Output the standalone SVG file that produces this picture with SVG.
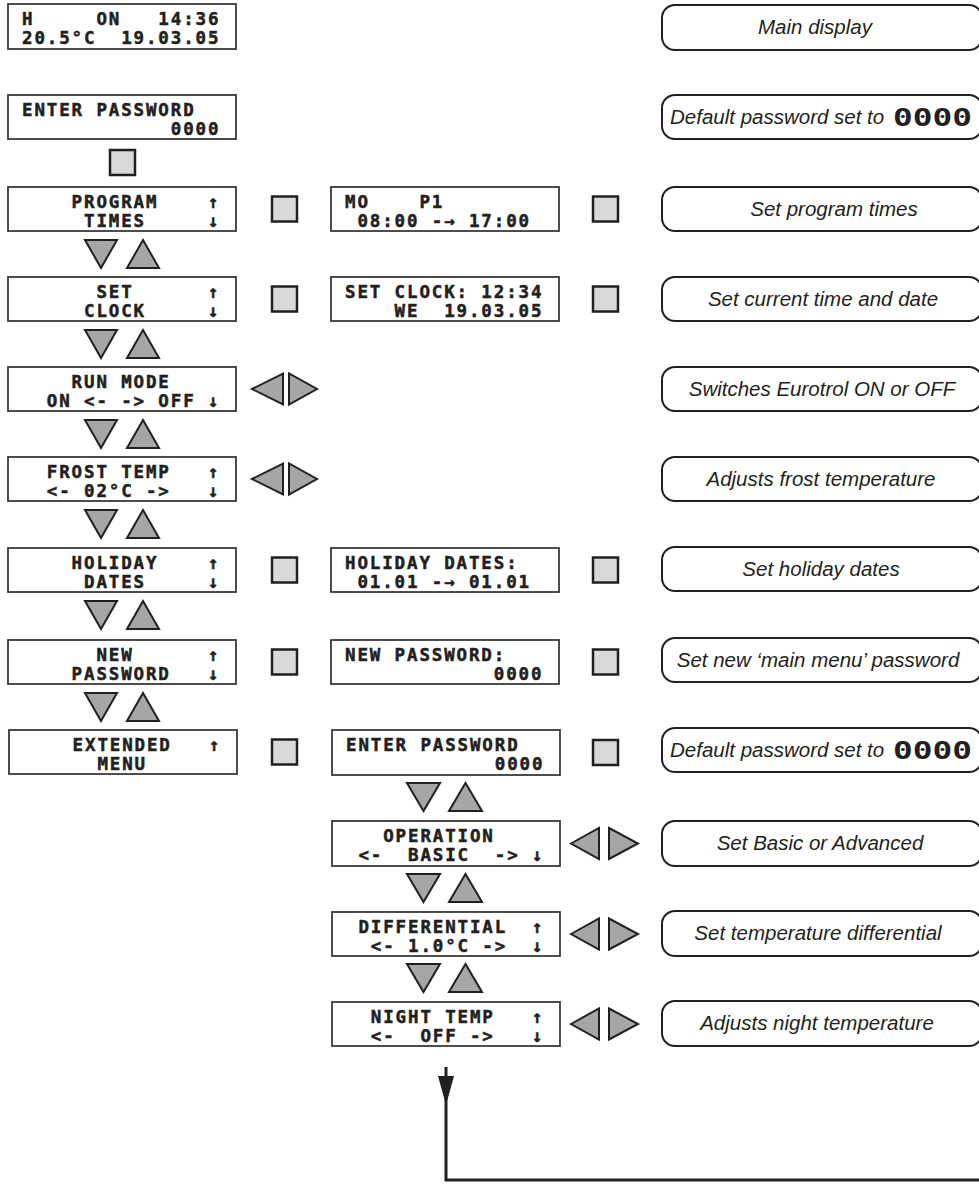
<svg xmlns="http://www.w3.org/2000/svg" width="979" height="1185" viewBox="0 0 979 1185">
<style>
.lcdbox{fill:#fff;stroke:#3a3a3a;stroke-width:1.8}
.lcd{font-family:"DejaVu Sans Mono","Liberation Mono",monospace;font-weight:bold;font-size:17.5px;letter-spacing:1.86px;fill:#231f20;stroke:#231f20;stroke-width:0.5;white-space:pre}
.btn{fill:#d9d9d9;stroke:#231f20;stroke-width:2.5}
.tri{fill:#a6a6a6;stroke:#231f20;stroke-width:2;stroke-linejoin:miter}
.note{fill:#fff;stroke:#231f20;stroke-width:2}
.nt{font-family:"Liberation Sans",Arial,sans-serif;font-style:italic;font-size:20.5px;fill:#231f20;text-anchor:middle}
.nt0{font-family:"Liberation Sans",Arial,sans-serif;font-style:italic;font-size:20.5px;fill:#231f20}
.big0{font-family:"DejaVu Sans Mono",monospace;font-weight:bold;font-size:25px;fill:#231f20}
.conn{fill:none;stroke:#231f20;stroke-width:3}
</style>
<rect width="979" height="1185" fill="#fff"/>

<!-- Left column LCD nodes -->
<g id="lcd-main">
<rect class="lcdbox" x="8" y="4" width="228" height="45"/>
<text class="lcd" xml:space="preserve" x="22" y="25">H     ON   14:36</text>
<text class="lcd" xml:space="preserve" x="22" y="44">20.5°C  19.03.05</text>
</g>
<g id="lcd-enter-password">
<rect class="lcdbox" x="8" y="95" width="228" height="44"/>
<text class="lcd" xml:space="preserve" x="22" y="116">ENTER PASSWORD</text>
<text class="lcd" xml:space="preserve" x="22" y="135">            0000</text>
</g>
<g id="lcd-program-times">
<rect class="lcdbox" x="8" y="187" width="228" height="44"/>
<text class="lcd" xml:space="preserve" x="22" y="208">    PROGRAM    ↑</text>
<text class="lcd" xml:space="preserve" x="22" y="227">     TIMES     ↓</text>
</g>
<g id="lcd-set-clock">
<rect class="lcdbox" x="8" y="277" width="228" height="44"/>
<text class="lcd" xml:space="preserve" x="22" y="298">      SET      ↑</text>
<text class="lcd" xml:space="preserve" x="22" y="317">     CLOCK     ↓</text>
</g>
<g id="lcd-run-mode">
<rect class="lcdbox" x="8" y="367" width="228" height="44"/>
<text class="lcd" xml:space="preserve" x="22" y="388">    RUN MODE</text>
<text class="lcd" xml:space="preserve" x="22" y="407">  ON &lt;- -&gt; OFF ↓</text>
</g>
<g id="lcd-frost-temp">
<rect class="lcdbox" x="8" y="457" width="228" height="44"/>
<text class="lcd" xml:space="preserve" x="22" y="478">  FROST TEMP   ↑</text>
<text class="lcd" xml:space="preserve" x="22" y="497">  &lt;- 02°C -&gt;   ↓</text>
</g>
<g id="lcd-holiday-dates">
<rect class="lcdbox" x="8" y="548" width="228" height="44"/>
<text class="lcd" xml:space="preserve" x="22" y="569">    HOLIDAY    ↑</text>
<text class="lcd" xml:space="preserve" x="22" y="588">     DATES     ↓</text>
</g>
<g id="lcd-new-password">
<rect class="lcdbox" x="8" y="640" width="228" height="44"/>
<text class="lcd" xml:space="preserve" x="22" y="661">      NEW      ↑</text>
<text class="lcd" xml:space="preserve" x="22" y="680">    PASSWORD   ↓</text>
</g>
<g id="lcd-extended-menu">
<rect class="lcdbox" x="9" y="730" width="228" height="44"/>
<text class="lcd" xml:space="preserve" x="23" y="751">    EXTENDED   ↑</text>
<text class="lcd" xml:space="preserve" x="23" y="770">      MENU</text>
</g>

<!-- Middle column LCD nodes -->
<g id="lcd-program-detail">
<rect class="lcdbox" x="331" y="187" width="228" height="44"/>
<text class="lcd" xml:space="preserve" x="345" y="208">MO    P1</text>
<text class="lcd" xml:space="preserve" x="345" y="227"> 08:00 -→ 17:00</text>
</g>
<g id="lcd-clock-detail">
<rect class="lcdbox" x="331" y="277" width="228" height="44"/>
<text class="lcd" xml:space="preserve" x="345" y="298">SET CLOCK: 12:34</text>
<text class="lcd" xml:space="preserve" x="345" y="317">    WE  19.03.05</text>
</g>
<g id="lcd-holiday-detail">
<rect class="lcdbox" x="331" y="548" width="228" height="44"/>
<text class="lcd" xml:space="preserve" x="345" y="569">HOLIDAY DATES:</text>
<text class="lcd" xml:space="preserve" x="345" y="588"> 01.01 -→ 01.01</text>
</g>
<g id="lcd-newpw-detail">
<rect class="lcdbox" x="331" y="640" width="228" height="44"/>
<text class="lcd" xml:space="preserve" x="345" y="661">NEW PASSWORD:</text>
<text class="lcd" xml:space="preserve" x="345" y="680">            0000</text>
</g>
<g id="lcd-enter-password-2">
<rect class="lcdbox" x="332" y="730" width="228" height="45"/>
<text class="lcd" xml:space="preserve" x="346" y="751">ENTER PASSWORD</text>
<text class="lcd" xml:space="preserve" x="346" y="770">            0000</text>
</g>
<g id="lcd-operation">
<rect class="lcdbox" x="332" y="821" width="228" height="45"/>
<text class="lcd" xml:space="preserve" x="346" y="842">   OPERATION</text>
<text class="lcd" xml:space="preserve" x="346" y="861"> &lt;-  BASIC  -&gt; ↓</text>
</g>
<g id="lcd-differential">
<rect class="lcdbox" x="332" y="912" width="228" height="44"/>
<text class="lcd" xml:space="preserve" x="346" y="933"> DIFFERENTIAL  ↑</text>
<text class="lcd" xml:space="preserve" x="346" y="952">  &lt;- 1.0°C -&gt;  ↓</text>
</g>
<g id="lcd-night-temp">
<rect class="lcdbox" x="332" y="1002" width="228" height="44"/>
<text class="lcd" xml:space="preserve" x="346" y="1023">  NIGHT TEMP   ↑</text>
<text class="lcd" xml:space="preserve" x="346" y="1042">  &lt;-  OFF -&gt;   ↓</text>
</g>

<!-- Buttons -->
<g id="buttons">
<rect class="btn" x="110" y="150" width="25" height="25"/>
<rect class="btn" x="272" y="196.5" width="25" height="25"/>
<rect class="btn" x="272" y="286.5" width="25" height="25"/>
<rect class="btn" x="272" y="557.5" width="25" height="25"/>
<rect class="btn" x="272" y="649.5" width="25" height="25"/>
<rect class="btn" x="272" y="739.5" width="25" height="25"/>
<rect class="btn" x="593" y="196.5" width="25" height="25"/>
<rect class="btn" x="593" y="286.5" width="25" height="25"/>
<rect class="btn" x="593" y="557.5" width="25" height="25"/>
<rect class="btn" x="593" y="649.5" width="25" height="25"/>
<rect class="btn" x="593" y="740" width="25" height="25"/>
</g>

<!-- Up/down triangles -->
<g id="updown-keys">
<polygon class="tri" points="85,240 117,240 101,268"/><polygon class="tri" points="127,268 159,268 143,240"/>
<polygon class="tri" points="85,330 117,330 101,358"/><polygon class="tri" points="127,358 159,358 143,330"/>
<polygon class="tri" points="85,420 117,420 101,448"/><polygon class="tri" points="127,448 159,448 143,420"/>
<polygon class="tri" points="85,510 117,510 101,538"/><polygon class="tri" points="127,538 159,538 143,510"/>
<polygon class="tri" points="85,601 117,601 101,629"/><polygon class="tri" points="127,629 159,629 143,601"/>
<polygon class="tri" points="85,693 117,693 101,721"/><polygon class="tri" points="127,721 159,721 143,693"/>
<polygon class="tri" points="407,783 440,783 423.5,811"/><polygon class="tri" points="449,811 482,811 465.5,783"/>
<polygon class="tri" points="407,874 440,874 423.5,902"/><polygon class="tri" points="449,902 482,902 465.5,874"/>
<polygon class="tri" points="407,964 440,964 423.5,992"/><polygon class="tri" points="449,992 482,992 465.5,964"/>
</g>

<!-- Left/right triangles -->
<g id="leftright-keys">
<polygon class="tri" points="252,389 283,373.5 283,404.5"/><polygon class="tri" points="289,373.5 289,404.5 317,389"/>
<polygon class="tri" points="252,479 283,463.5 283,494.5"/><polygon class="tri" points="289,463.5 289,494.5 317,479"/>
<polygon class="tri" points="571,843.5 599,828 599,859"/><polygon class="tri" points="609,828 609,859 638,843.5"/>
<polygon class="tri" points="571,934 599,918.5 599,949.5"/><polygon class="tri" points="609,918.5 609,949.5 638,934"/>
<polygon class="tri" points="571,1024 599,1008.5 599,1039.5"/><polygon class="tri" points="609,1008.5 609,1039.5 638,1024"/>
</g>

<!-- Description notes -->
<g id="note-main"><rect class="note" x="662" y="5" width="320" height="45" rx="13"/><text class="nt" x="815" y="34">Main display</text></g>
<g id="note-default-1"><rect class="note" x="662" y="95" width="320" height="44" rx="13"/><text class="nt0" x="670" y="124">Default password set to</text><text class="big0" x="893" y="126" textLength="79" lengthAdjust="spacingAndGlyphs">0000</text></g>
<g id="note-program"><rect class="note" x="662" y="187" width="320" height="44" rx="13"/><text class="nt" x="834" y="216">Set program times</text></g>
<g id="note-clock"><rect class="note" x="662" y="277" width="320" height="44" rx="13"/><text class="nt" x="823" y="306">Set current time and date</text></g>
<g id="note-run"><rect class="note" x="662" y="367" width="320" height="44" rx="13"/><text class="nt" x="822" y="396">Switches Eurotrol ON or OFF</text></g>
<g id="note-frost"><rect class="note" x="662" y="457" width="320" height="44" rx="13"/><text class="nt" x="821" y="486">Adjusts frost temperature</text></g>
<g id="note-holiday"><rect class="note" x="662" y="547" width="320" height="44" rx="13"/><text class="nt" x="821" y="576">Set holiday dates</text></g>
<g id="note-newpw"><rect class="note" x="662" y="638" width="320" height="44" rx="13"/><text class="nt" x="818" y="667">Set new ‘main menu’ password</text></g>
<g id="note-default-2"><rect class="note" x="662" y="728" width="320" height="44" rx="13"/><text class="nt0" x="670" y="757">Default password set to</text><text class="big0" x="893" y="759" textLength="79" lengthAdjust="spacingAndGlyphs">0000</text></g>
<g id="note-operation"><rect class="note" x="662" y="821" width="320" height="45" rx="13"/><text class="nt" x="820" y="850">Set Basic or Advanced</text></g>
<g id="note-differential"><rect class="note" x="662" y="911" width="320" height="45" rx="13"/><text class="nt" x="818" y="940">Set temperature differential</text></g>
<g id="note-night"><rect class="note" x="662" y="1001" width="320" height="45" rx="13"/><text class="nt" x="817" y="1030">Adjusts night temperature</text></g>

<!-- Connectors -->
<g id="connectors">
<path class="conn" d="M446,1067 V1180 H985"/>
<polygon points="438,1076 454,1076 446,1105" fill="#231f20"/>
</g>
</svg>
